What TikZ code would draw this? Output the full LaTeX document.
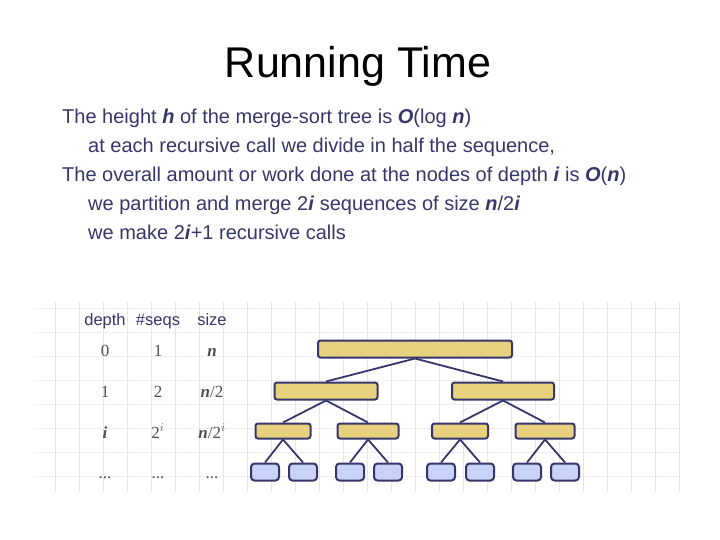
\documentclass[tikz,border=0pt]{standalone}
\usepackage{fontspec}
\setmainfont{Liberation Sans}
\newfontfamily\tabserif{Liberation Serif}
\usetikzlibrary{positioning}

\definecolor{navy}{HTML}{36366A}
\definecolor{gold}{HTML}{E8D17E}
\definecolor{leafblue}{HTML}{C9D2F8}
\definecolor{gridline}{HTML}{E2E6EF}
\definecolor{cellgray}{HTML}{505050}

\newcommand{\bi}[1]{\textbf{\textit{#1}}}

\begin{document}
\begin{tikzpicture}[x=1pt, y=-1pt,
    line/.style={anchor=base west, text=navy, font=\fontsize{20}{23}\selectfont, inner sep=0pt},
    head/.style={anchor=base, text=navy, font=\fontsize{16.5}{19}\selectfont, inner sep=0pt},
    cell/.style={anchor=base, text=cellgray, font=\tabserif\fontsize{17}{19}\selectfont, inner sep=0pt},
    seqbox/.style={draw=navy, line width=2pt, fill=gold, rounded corners=2.5pt, inner sep=0pt},
    leafbox/.style={draw=navy, line width=2pt, fill=leafblue, rounded corners=3.5pt, inner sep=0pt,
        minimum width=28pt, minimum height=17pt},
    edge/.style={navy, line width=1.8pt}]
    \useasboundingbox (0,0) rectangle (720,540);

    % faint grid behind the table and tree
    \foreach \gx in {55,79,...,679} \draw[gridline, line width=0.7pt] (\gx,302) -- (\gx,492);
    \foreach \gy in {308,332,...,488} \draw[gridline, line width=0.7pt, densely dotted] (35,\gy) -- (680,\gy);

    \node[anchor=base, font=\fontsize{43}{48}\selectfont, inner sep=0pt] (title) at (358,78) {Running Time};

    \node[line] (l1) at (62,124) {The height \bi{h} of the merge-sort tree is \bi{O}(log \bi{n})};
    \node[line] (l2) at (88,153) {at each recursive call we divide in half the sequence,};
    \node[line] (l3) at (62,182) {The overall amount or work done at the nodes of depth \bi{i} is \bi{O}(\bi{n})};
    \node[line] (l4) at (88,211) {we partition and merge 2\bi{i} sequences of size \bi{n}/2\bi{i}};
    \node[line] (l5) at (88,240) {we make 2\bi{i}+1 recursive calls};

    \node[head] (hdepth) at (105,325) {depth};
    \node[head] (hseqs) at (158,325) {\#seqs};
    \node[head] (hsize) at (212,325) {size};
    \node[cell] (d0) at (105,356) {0};
    \node[cell] (s0) at (158,356) {1};
    \node[cell] (z0) at (212,356) {\textbf{\textit{n}}};
    \node[cell] (d1) at (105,397) {1};
    \node[cell] (s1) at (158,397) {2};
    \node[cell] (z1) at (212,397) {\textbf{\textit{n}}/2};
    \node[cell] (di) at (105,438) {\textbf{\textit{i}}};
    \node[cell] (si) at (158,438) {2$^{i}$};
    \node[cell] (zi) at (212,438) {\textbf{\textit{n}}/2$^{i}$};
    \node[cell] (dd) at (105,478) {...};
    \node[cell] (sd) at (158,478) {...};
    \node[cell] (zd) at (212,478) {...};

    \node[seqbox, minimum width=194pt, minimum height=17pt] (root) at (415,349) {};
    \node[seqbox, minimum width=103pt, minimum height=17pt] (a) at (326,391) {};
    \node[seqbox, minimum width=102pt, minimum height=17pt] (b) at (503,391) {};
    \node[seqbox, minimum width=55pt, minimum height=15pt] (aa) at (283,431) {};
    \node[seqbox, minimum width=61pt, minimum height=15pt] (ab) at (368,431) {};
    \node[seqbox, minimum width=56pt, minimum height=15pt] (ba) at (460,431) {};
    \node[seqbox, minimum width=59pt, minimum height=15pt] (bb) at (545,431) {};

    \node[leafbox] (aa1) at (265,472) {};
    \node[leafbox] (aa2) at (303,472) {};
    \node[leafbox] (ab1) at (350,472) {};
    \node[leafbox] (ab2) at (388,472) {};
    \node[leafbox] (ba1) at (441,472) {};
    \node[leafbox] (ba2) at (480,472) {};
    \node[leafbox] (bb1) at (527,472) {};
    \node[leafbox] (bb2) at (565,472) {};

    \draw[edge] (root.south) -- (a.north);
    \draw[edge] (root.south) -- (b.north);
    \foreach \p/\c in {a/aa, a/ab, b/ba, b/bb, aa/aa1, aa/aa2, ab/ab1, ab/ab2, ba/ba1, ba/ba2, bb/bb1, bb/bb2}
        \draw[edge] (\p.south) -- (\c.north);
\end{tikzpicture}
\end{document}
